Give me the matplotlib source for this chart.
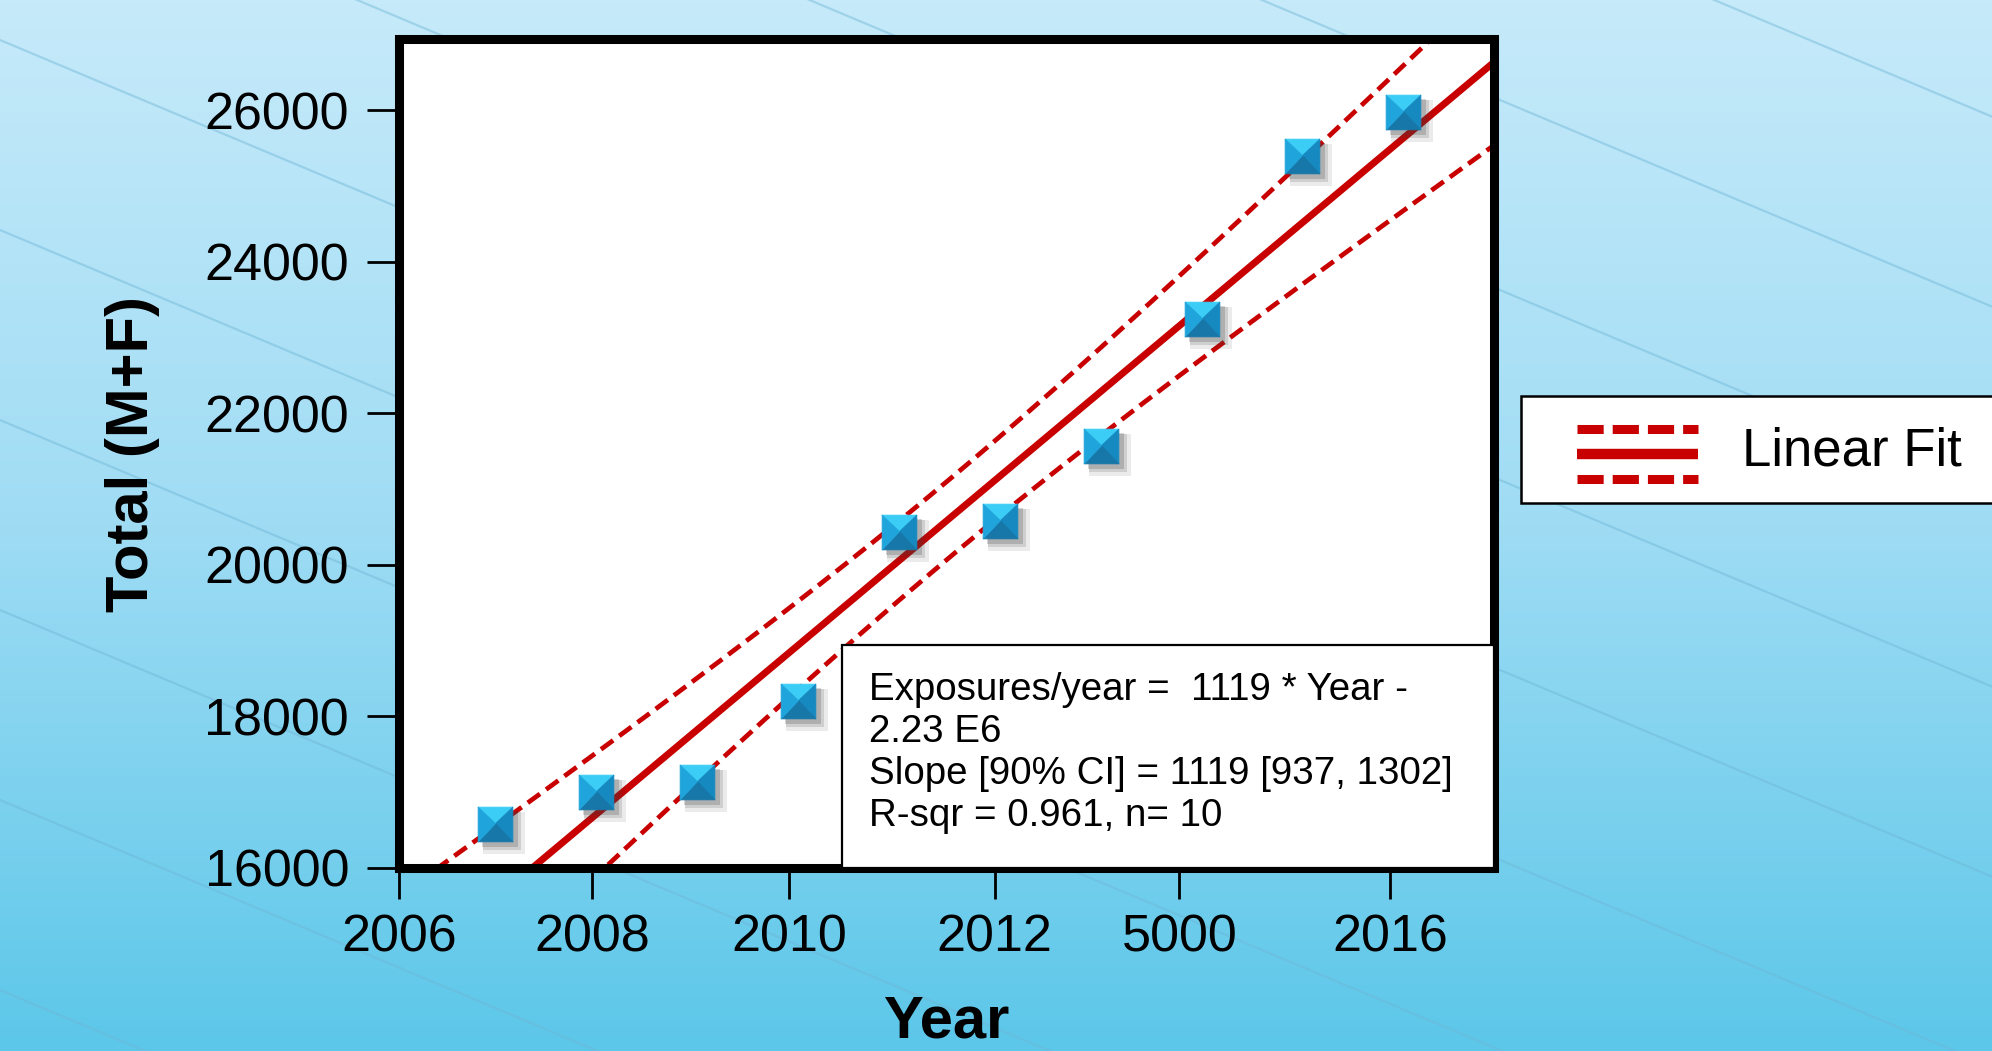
import numpy as np
import matplotlib
matplotlib.use('Agg')
import matplotlib.pyplot as plt
from matplotlib.path import Path
from matplotlib.patches import Rectangle
from matplotlib.lines import Line2D
from matplotlib.colors import LinearSegmentedColormap
from matplotlib.transforms import offset_copy

plt.rcParams['font.family'] = ['Liberation Sans', 'DejaVu Sans']

# data
years = [2007, 2008, 2009, 2010, 2011, 2012, 2013, 2014, 2015, 2016]
totals = [16580, 17000, 17140, 18200, 20440, 20580, 21570, 23240, 25390, 25980]
x_tick_labels = ['2006', '2008', '2010', '2012', '5000', '2016']
y_ticks = [16000, 18000, 20000, 22000, 24000, 26000]
stats_text = ['Exposures/year =  1119 * Year -',
              '2.23 E6',
              'Slope [90% CI] = 1119 [937, 1302]',
              'R-sqr = 0.961, n= 10']
legend_label = 'Linear Fit'

# tick positions are a bit irregular on the original
x_tick_pos = [2006.05, 2007.96, 2009.91, 2011.95, 2013.78, 2015.87]

W, H = 1992, 1051
RED = '#c80000'


def fx(px):
    return px / W


def fy(py):
    return 1 - py / H


fig = plt.figure(figsize=(W / 100, H / 100), dpi=100)

# background gradient with faint diagonal streaks
bg = fig.add_axes([0, 0, 1, 1])
bg.set_zorder(-1)
bg.axis('off')
cmap = LinearSegmentedColormap.from_list('bg', ['#c6eafa', '#9fdcf4', '#5cc7e9'])
grad = np.linspace(0, 1, 256)[:, None] * np.ones((1, 16))
bg.imshow(grad, extent=[0, W, H, 0], aspect='auto', cmap=cmap)
for k in range(-4, 10):
    y0 = -150 + 190 * k
    bg.plot([0, W], [y0, y0 + 0.42 * W], color='#6fb6d6', lw=1.6, alpha=0.45)
bg.set_xlim(0, W)
bg.set_ylim(H, 0)

# main axes
ax = fig.add_axes([fx(399), fy(868), (1494 - 399) / W, (868 - 39) / H])
ax.set_facecolor('white')
for sp in ax.spines.values():
    sp.set_linewidth(6.5)
    sp.set_color('black')

# linear fit and 95% band of the mean
x = np.array(years, dtype=float)
y = np.array(totals, dtype=float)
slope, intercept = np.polyfit(x, y, 1)
n = len(x)
resid = y - (slope * x + intercept)
s = np.sqrt(np.sum(resid ** 2) / (n - 2))
sxx = np.sum((x - x.mean()) ** 2)
t_val = 2.306
xs = np.linspace(2005.5, 2017.5, 300)
fit = slope * xs + intercept
half = t_val * s * np.sqrt(1 / n + (xs - x.mean()) ** 2 / sxx)

ax.plot(xs, fit, color=RED, lw=5, zorder=2, solid_capstyle='butt')
ax.plot(xs, fit + half, color=RED, lw=3.4, dashes=(3.2, 1.6), zorder=2)
ax.plot(xs, fit - half, color=RED, lw=3.4, dashes=(3.2, 1.6), zorder=2)

# pyramid-style square markers with a soft shadow
for i, (dx, a) in enumerate([(9, 0.10), (7, 0.16), (5, 0.22)]):
    tr = offset_copy(ax.transData, fig=fig, x=dx, y=-dx, units='dots')
    ax.plot(years, totals, ls='none', marker='s', ms=26 + 2 * (2 - i),
            color='#404040', alpha=a, mew=0, transform=tr, zorder=3)

facets = [
    ([(-1, 1), (1, 1), (0, 0.05)], '#3ccdf6'),
    ([(1, 1), (1, -1), (0, 0.05)], '#1689c0'),
    ([(1, -1), (-1, -1), (0, 0.05)], '#1677a8'),
    ([(-1, -1), (-1, 1), (0, 0.05)], '#1fa5dc'),
]
for verts, col in facets:
    path = Path(verts + [verts[0]], [Path.MOVETO, Path.LINETO, Path.LINETO, Path.CLOSEPOLY])
    ax.plot(years, totals, ls='none', marker=path, ms=25, color=col,
            mec=col, mew=0.6, zorder=4)

ax.set_xlim(2006.046, 2016.898)
ax.set_ylim(16000, 26940)
ax.set_xticks(x_tick_pos)
ax.set_xticklabels(x_tick_labels)
ax.set_yticks(y_ticks)
ax.tick_params(direction='out', width=2, colors='black', labelsize=37.5)
ax.tick_params(axis='x', length=22, pad=11)
ax.tick_params(axis='y', length=23, pad=13)

ax.set_xlabel('Year', fontsize=43, fontweight='bold', va='center')
ax.xaxis.set_label_coords(0.5, -0.186)
ax.set_ylabel('Total (M+F)', fontsize=43, fontweight='bold', va='center')
ax.yaxis.set_label_coords(-0.243, 0.5)

# stats box
ax.add_patch(Rectangle((0.4046, 0.0), 0.5954, 0.269, transform=ax.transAxes,
                       facecolor='white', edgecolor='black', lw=1.6, zorder=5))
ax.text(0.4292, 0.1387, '\n'.join(stats_text), transform=ax.transAxes,
        fontsize=27.7, va='center', ha='left', linespacing=1.21, zorder=6)

# legend box at the right edge
fig.add_artist(Rectangle((fx(1521), fy(503)), fx(2010) - fx(1521), fy(396) - fy(503),
                         transform=fig.transFigure, facecolor='white',
                         edgecolor='black', lw=1.8))
for py, style in [(429, 'dash'), (454, 'solid'), (479, 'dash')]:
    if style == 'solid':
        ln = Line2D([fx(1577), fx(1698)], [fy(py), fy(py)], color=RED, lw=7.5,
                    transform=fig.transFigure, solid_capstyle='butt')
    else:
        ln = Line2D([fx(1577), fx(1698)], [fy(py), fy(py)], color=RED, lw=6.5,
                    dashes=(2.9, 1.0), transform=fig.transFigure, dash_capstyle='butt')
    fig.add_artist(ln)
fig.text(fx(1742), fy(465), legend_label, fontsize=38, va='baseline', ha='left')

fig.savefig('out.png', dpi=100)
